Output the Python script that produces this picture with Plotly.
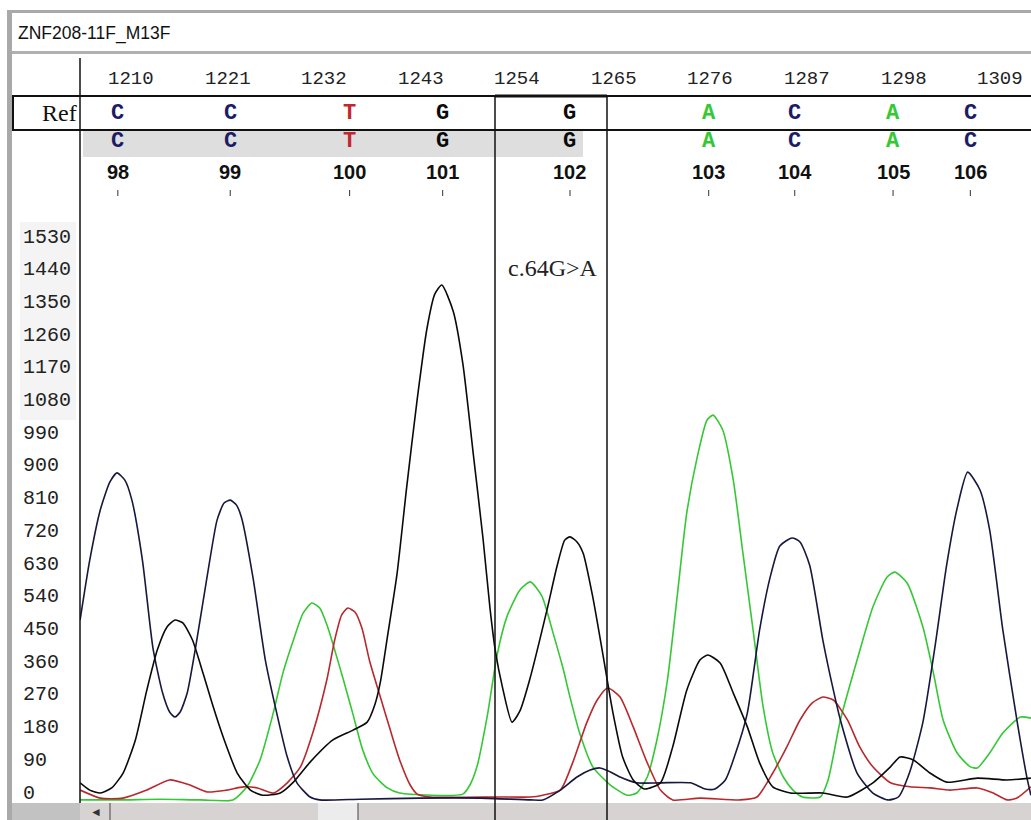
import plotly.graph_objects as go

W, H = 1031, 820

# ---------------- data (scan position, signal intensity) ----------------
trace_A = [(1204.2, -19), (1208.8, -19), (1213.3, -17), (1217.9, -19), (1221.6, -19), (1223.2, 17),
           (1224.7, 91), (1226.2, 220), (1227.3, 330), (1228.5, 421), (1229.6, 495), (1230.6, 523),
           (1231.5, 509), (1232.4, 457), (1233.0, 410), (1234.2, 311), (1235.3, 215), (1236.4, 118),
           (1237.6, 52), (1239.2, 14), (1240.6, 0), (1247.8, -3), (1248.6, 22), (1249.4, 72),
           (1250.6, 215), (1251.7, 380), (1252.8, 484), (1254.3, 559), (1255.5, 581), (1256.8, 542),
           (1258.1, 438), (1259.2, 344), (1260.0, 264), (1261.1, 165), (1262.6, 72), (1264.6, 22),
           (1266.5, -6), (1267.6, 0), (1268.8, 44), (1269.9, 146), (1271.1, 311), (1272.2, 539),
           (1273.3, 771), (1274.5, 925), (1275.6, 1026), (1276.3, 1040), (1277.4, 999), (1278.6, 861),
           (1279.7, 660), (1280.9, 440), (1282.0, 237), (1283.1, 110), (1284.3, 44), (1285.4, 8),
           (1286.5, -11), (1288.5, -11), (1289.4, 36), (1290.8, 201), (1292.7, 366), (1294.5, 512),
           (1296.1, 594), (1297.0, 608), (1298.4, 578), (1300.2, 457), (1301.4, 330), (1302.5, 201),
           (1304.1, 110), (1305.6, 72), (1306.4, 69), (1307.8, 110), (1309.3, 165), (1311.3, 209),
           (1312.5, 206)]

trace_T = [(1204.2, 8), (1206.5, -14), (1209.1, -14), (1211.8, 8), (1214.4, 36), (1216.7, 22),
           (1218.7, 3), (1220.9, 8), (1222.8, 17), (1224.4, 14), (1226.2, 0), (1227.8, 28),
           (1229.3, 72), (1230.7, 165), (1232.3, 311), (1233.2, 421), (1234.0, 490), (1234.7, 509),
           (1235.5, 498), (1236.3, 454), (1237.2, 361), (1238.4, 264), (1239.5, 176), (1240.6, 91),
           (1241.8, 22), (1242.6, -3), (1244.1, -11), (1252.0, -11), (1255.5, -11), (1256.9, -6),
           (1258.9, 8), (1260.3, 83), (1261.9, 193), (1263.1, 256), (1264.3, 289), (1265.7, 264),
           (1267.2, 182), (1268.8, 83), (1270.3, 8), (1271.7, -19), (1274.8, -14), (1279.4, -19),
           (1281.3, -11), (1283.1, 55), (1284.7, 127), (1286.2, 201), (1287.6, 248), (1288.8, 264),
           (1290.0, 256), (1291.6, 201), (1293.0, 127), (1294.5, 72), (1296.5, 28), (1298.7, 17),
           (1301.0, 14), (1303.3, 8), (1306.4, 14), (1308.2, 0), (1309.8, -19), (1310.9, -14),
           (1312.5, 17)]

trace_C = [(1204.2, 476), (1205.3, 641), (1206.5, 779), (1207.6, 856), (1208.4, 881), (1209.3, 861),
           (1210.1, 806), (1211.3, 641), (1212.5, 399), (1213.6, 275), (1214.4, 223), (1215.0, 209),
           (1215.6, 223), (1216.4, 275), (1217.4, 407), (1218.7, 600), (1219.8, 751), (1220.6, 798),
           (1221.3, 806), (1222.0, 793), (1222.6, 757), (1223.9, 592), (1225.3, 366), (1226.6, 220),
           (1227.8, 99), (1228.9, 28), (1230.4, -11), (1231.5, -19), (1236.1, -17), (1242.9, -14),
           (1249.8, -14), (1255.5, -19), (1256.9, -19), (1258.9, 8), (1260.8, 44), (1262.3, 63),
           (1263.4, 69), (1264.6, 58), (1265.7, 44), (1267.6, 28), (1270.3, 28), (1273.7, 28),
           (1275.4, 11), (1276.5, 11), (1277.7, 36), (1278.8, 105), (1280.2, 220), (1281.6, 449),
           (1282.8, 594), (1283.9, 680), (1285.3, 702), (1286.2, 691), (1287.3, 627), (1288.8, 421),
           (1290.0, 283), (1290.8, 201), (1292.7, 55), (1294.5, 0), (1296.2, -19), (1297.4, -11),
           (1298.7, 58), (1300.2, 195), (1301.6, 407), (1302.9, 627), (1304.1, 784), (1305.3, 883),
           (1306.7, 834), (1307.8, 724), (1309.3, 449), (1310.9, 201), (1312.1, 36), (1312.5, -6)]

trace_G = [(1204.2, 28), (1205.3, 8), (1206.5, 0), (1207.8, 14), (1209.1, 55), (1210.5, 146),
           (1211.8, 283), (1213.0, 394), (1214.1, 457), (1215.0, 476), (1215.9, 468), (1217.0, 421),
           (1218.2, 330), (1219.3, 242), (1220.5, 154), (1222.1, 55), (1223.6, 8), (1225.0, -6),
           (1227.0, 0), (1228.5, 30), (1230.4, 85), (1233.0, 146), (1235.3, 173), (1236.9, 195),
           (1237.8, 245), (1238.4, 305), (1239.2, 429), (1240.3, 603), (1241.4, 842), (1242.6, 1084),
           (1243.7, 1277), (1244.6, 1373), (1245.4, 1398), (1246.7, 1326), (1247.8, 1181), (1249.0, 930),
           (1250.1, 699), (1250.9, 506), (1251.5, 391), (1252.3, 292), (1253.4, 195), (1254.3, 226),
           (1255.4, 311), (1257.4, 506), (1258.5, 622), (1259.4, 696), (1260.0, 705), (1260.8, 691),
           (1261.5, 660), (1262.6, 539), (1263.8, 374), (1264.9, 220), (1266.0, 99), (1267.2, 36),
           (1268.5, 11), (1270.3, 28), (1271.7, 127), (1273.3, 283), (1274.8, 366), (1275.7, 380),
           (1277.1, 358), (1278.6, 275), (1280.2, 182), (1281.6, 83), (1283.1, 17), (1285.1, 0),
           (1288.8, 0), (1291.6, -11), (1294.5, 28), (1296.5, 72), (1297.6, 99), (1299.1, 91),
           (1301.0, 55), (1302.9, 30), (1306.4, 41), (1309.8, 36), (1312.5, 41)]

scan_labels = [1210, 1221, 1232, 1243, 1254, 1265, 1276, 1287, 1298, 1309]
y_labels = [0, 90, 180, 270, 360, 450, 540, 630, 720, 810, 900, 990, 1080, 1170, 1260, 1350, 1440, 1530]
base_pos = [1208.5, 1221.3, 1234.9, 1245.5, 1260.0, 1275.8, 1285.6, 1296.8, 1305.6]
ref_bases = ["C", "C", "T", "G", "G", "A", "C", "A", "C"]
call_bases = ["C", "C", "T", "G", "G", "A", "C", "A", "C"]
base_numbers = [98, 99, 100, 101, 102, 103, 104, 105, 106]
sample_name = "ZNF208-11F_M13F"
mutation_label = "c.64G>A"

# ---------------- styling ----------------
COL = {"A": "#35c835", "C": "#17173f", "G": "#0a0a0a", "T": "#b8282d"}
TXT = {"A": "#35c835", "C": "#1c1c66", "G": "#0a0a0a", "T": "#c0282d"}
MONO = "Liberation Mono, Courier New, monospace"
SANS = "Liberation Sans, Arial, sans-serif"
SERIF = "Liberation Serif, Times New Roman, serif"


def X(p):
    return p / W


def Y(p):
    return 1 - p / H


fig = go.Figure()
for pts, base in [(trace_A, "A"), (trace_T, "T"), (trace_C, "C"), (trace_G, "G")]:
    xs, ys = zip(*pts)
    fig.add_trace(go.Scatter(x=xs, y=ys, mode="lines", hoverinfo="skip", showlegend=False,
                             line=dict(color=COL[base], width=1.6, shape="spline", smoothing=0.6)))

shapes = []


def rect(x0, y0, x1, y1, fill=None, line_color=None, lw=0, layer="below"):
    shapes.append(dict(type="rect", xref="paper", yref="paper", x0=X(x0), x1=X(x1), y0=Y(y1), y1=Y(y0),
                       fillcolor=fill if fill else "rgba(0,0,0,0)",
                       line=dict(color=line_color if line_color else "rgba(0,0,0,0)", width=lw),
                       layer=layer))


def line(x0, y0, x1, y1, color="black", lw=1.5, layer="above"):
    shapes.append(dict(type="line", xref="paper", yref="paper", x0=X(x0), x1=X(x1), y0=Y(y0), y1=Y(y1),
                       line=dict(color=color, width=lw), layer=layer))


# window frame
rect(7, 10, 1031, 13, fill="#a9a9a9")
rect(7, 10, 12, 820, fill="#a9a9a9")
rect(12, 51, 1031, 54, fill="#b0b0b0")
# faint background behind the upper intensity labels
rect(20, 222, 76, 420, fill="#f4f4f4")
# gray band behind called bases
rect(83, 131, 583, 157, fill="#dedede")
# scroll bar
rect(12, 803, 1031, 820, fill="#d8d3d3", layer="above")
rect(12, 803, 80, 820, fill="#c2c2c2", layer="above")
rect(318, 803, 358, 820, fill="#ececec", layer="above")
line(110, 803, 110, 820, color="#444", lw=1)
line(358, 803, 358, 820, color="#444", lw=1)
# axis separator line
line(80, 58, 80, 803, color="#111", lw=1.5)
# reference box
rect(13, 96, 1040, 130, line_color="#111", lw=2, layer="above")
# mutation box
line(495, 96, 495, 820, color="#111", lw=1.5)
line(607, 96, 607, 820, color="#111", lw=1.5)
line(495, 96, 607, 96, color="#111", lw=3)
# small ticks under base numbers
for bp in base_pos:
    shapes.append(dict(type="line", xref="x", yref="paper", x0=bp, x1=bp, y0=Y(196), y1=Y(190),
                       line=dict(color="#333", width=1)))

ann = []


def text(t, x, y, xref="paper", yref="paper", xanchor="center", **font):
    ann.append(dict(text=t, x=x, y=y, xref=xref, yref=yref, xanchor=xanchor, yanchor="middle",
                    showarrow=False, borderpad=0, font=font))


text(sample_name, X(17), Y(33), xanchor="left", family=SANS, size=17.5, color="#111")
for s in scan_labels:
    text(str(s), s, Y(79), xref="x", family=MONO, size=19, color="#222")
text("Ref", X(78), Y(113), xanchor="right", family=SERIF, size=24, color="#111")
for bp, b in zip(base_pos, ref_bases):
    text("<b>%s</b>" % b, bp, Y(113), xref="x", family=MONO, size=22, color=TXT[b])
for bp, b in zip(base_pos, call_bases):
    text("<b>%s</b>" % b, bp, Y(142), xref="x", family=MONO, size=22, color=TXT[b])
for bp, n in zip(base_pos, base_numbers):
    text("<b>%s</b>" % n, bp, Y(172), xref="x", family=SANS, size=20, color="#111")
for v in y_labels:
    text(str(v), X(22), v, yref="y", xanchor="left", family=MONO, size=20, color="#222")
text(mutation_label, X(553), Y(268), family=SERIF, size=24, color="#222")
text("◄", X(96), Y(812), family=SANS, size=12, color="#333")

fig.update_layout(
    width=W, height=H, margin=dict(l=0, r=0, t=0, b=0),
    paper_bgcolor="white", plot_bgcolor="white",
    xaxis=dict(domain=[80 / W, 1], range=[1204.19, 1312.51], visible=False, fixedrange=True),
    yaxis=dict(domain=[17 / H, 620 / H], range=[-27.5, 1632], visible=False, fixedrange=True),
    shapes=shapes, annotations=ann,
)

fig.write_html("out.html", config={"displayModeBar": False},
               post_script="document.body.style.margin='0';document.body.style.overflow='hidden';")
